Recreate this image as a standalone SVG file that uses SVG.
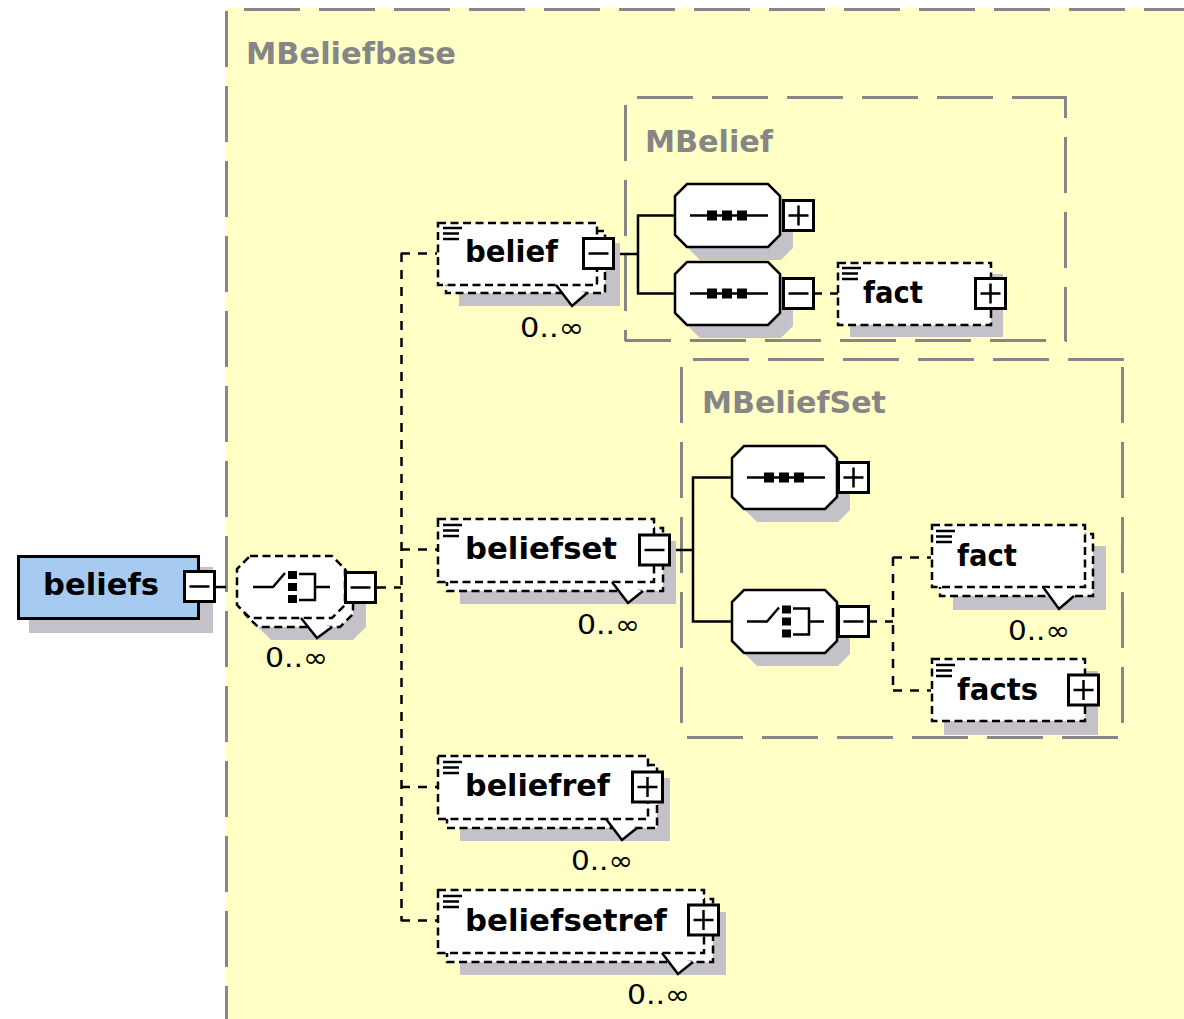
<svg xmlns="http://www.w3.org/2000/svg" width="1184" height="1019" viewBox="0 0 1184 1019">
<style>
.gb{fill:none;stroke:#868686;stroke-width:3;stroke-dasharray:56 19}
.gt{font-family:"DejaVu Sans",sans-serif;font-weight:bold;font-size:31px;fill:#868686}
.lbl{font-family:"DejaVu Sans",sans-serif;font-weight:bold;font-size:30px;fill:#000}
.occ{font-family:"DejaVu Sans",sans-serif;font-size:27px;fill:#000}
.sh{fill:#C4C2C8}
.db{fill:#fff;stroke:#000;stroke-width:2.5;stroke-dasharray:8 4.5}
.sb{fill:#fff;stroke:#000;stroke-width:2.5}
.v{fill:#fff;stroke:#000;stroke-width:2.5}
.c{fill:none;stroke:#000;stroke-width:2.5}
.cd{fill:none;stroke:#000;stroke-width:2.5;stroke-dasharray:9 8}
</style>
<defs>
<g id="btnMinus"><rect x="0" y="0" width="30" height="30" fill="#fff" stroke="#000" stroke-width="3"/><path d="M5,15H25" stroke="#000" stroke-width="2.5"/></g>
<g id="btnPlus"><rect x="0" y="0" width="30" height="30" fill="#fff" stroke="#000" stroke-width="3"/><path d="M5,15H25M15,5V25" stroke="#000" stroke-width="2.5"/></g>
<g id="doc"><path d="M0,0H19M0,5.5H16M0,11H16" stroke="#000" stroke-width="2.6" fill="none"/></g>
<g id="seqIcon"><path d="M15,0H93" stroke="#000" stroke-width="2.5"/><rect x="32" y="-5" width="10" height="10"/><rect x="47" y="-5" width="10" height="10"/><rect x="62" y="-5" width="10" height="10"/></g>
<g id="choiceIcon"><path d="M16,0H36L48,-14" fill="none" stroke="#000" stroke-width="2.5"/><rect x="51" y="-16" width="9" height="8"/><rect x="51" y="-4" width="9" height="8"/><rect x="51" y="8" width="9" height="8"/><path d="M62,-13H78V13H62M78,0H93" fill="none" stroke="#000" stroke-width="2.5"/></g>
</defs>
<rect x="0" y="0" width="1184" height="1019" fill="#fff"/>
<rect x="226" y="8" width="958" height="1011" fill="#FFFFC6"/>

<g id="MBeliefbase">
<path class="gb" d="M226,9.5H1184" stroke-dashoffset="57"/>
<path class="gb" d="M226.5,8V1019" stroke-dashoffset="72"/>
<text class="gt" x="246" y="64" textLength="210" lengthAdjust="spacingAndGlyphs">MBeliefbase</text>
</g>
<g id="MBelief">
<path class="gb" d="M625,97.5H1067" stroke-dashoffset="63"/>
<path class="gb" d="M1065.5,97V341" stroke-dashoffset="35"/>
<path class="gb" d="M625,340.5H1067" stroke-dashoffset="10"/>
<path class="gb" d="M625.5,97V341" stroke-dashoffset="67"/>
<text class="gt" x="645" y="152" textLength="128" lengthAdjust="spacingAndGlyphs">MBelief</text>
</g>
<g id="MBeliefSet">
<path class="gb" d="M681,359.5H1124" stroke-dashoffset="63"/>
<path class="gb" d="M681.5,359V738" stroke-dashoffset="67"/>
<path class="gb" d="M1122.5,359V738" stroke-dashoffset="67"/>
<path class="gb" d="M681,737.5H1124" stroke-dashoffset="69"/>
<text class="gt" x="702" y="413" textLength="184" lengthAdjust="spacingAndGlyphs">MBeliefSet</text>
</g>

<g id="connectors">
<path class="c" d="M215,587H226"/>
<path class="cd" d="M377,587.5H401"/>
<path class="cd" d="M401.5,253V921"/>
<path class="cd" d="M401,253.5H437M401,549.5H437M401,787H437M401,920.5H437"/>
<path class="c" d="M614,254H638M675,215.5H638V293.5H675"/>
<path class="cd" d="M813,293.5H838"/>
<path class="c" d="M670,550H693M732,477.5H693V621.5H732"/>
<path class="cd" d="M868,621.5H893"/>
<path class="cd" d="M893,557V691M893,557.5H931M893,690.5H931"/>
</g>

<g id="beliefs">
<rect class="sh" x="29" y="567" width="184" height="66"/>
<rect x="18.5" y="556.5" width="180" height="62" fill="#A6CAF0" stroke="#000" stroke-width="3"/>
<text class="lbl" x="43" y="595" textLength="116" lengthAdjust="spacingAndGlyphs">beliefs</text>
<use href="#btnMinus" x="184.5" y="571.5"/>
</g>

<g id="choice1">
<polygon class="sh" points="271,578 353,578 366,591 366,627 353,640 271,640 258,627 258,591"/>
<polygon class="db" points="258,565 340,565 353,578 353,614 340,627 258,627 245,614 245,578"/>
<polygon class="db" points="250,556 332,556 345,569 345,605 332,618 250,618 237,605 237,569"/>
<path class="v" d="M301,618L317,638L332,627"/>
<use href="#choiceIcon" x="237" y="587"/>
<use href="#btnMinus" x="345.5" y="572.5"/>
<text class="occ" x="265" y="667" textLength="63" lengthAdjust="spacingAndGlyphs">0..∞</text>
</g>

<g id="belief">
<rect class="sh" x="459" y="243" width="161" height="63"/>
<rect class="db" x="446" y="231" width="159" height="62"/>
<rect class="db" x="438" y="223" width="159" height="62"/>
<path class="v" d="M556,285L572,306L587,293"/>
<use href="#doc" x="443" y="228"/>
<text class="lbl" x="465" y="262" textLength="93" lengthAdjust="spacingAndGlyphs">belief</text>
<use href="#btnMinus" x="583.5" y="238.5"/>
<text class="occ" x="520" y="337" textLength="64" lengthAdjust="spacingAndGlyphs">0..∞</text>
</g>

<g id="sequence1">
<polygon class="sh" points="700,197 781,197 793,209 793,248 781,260 700,260 688,248 688,209"/>
<polygon class="sb" points="687,184 768,184 780,196 780,235 768,247 687,247 675,235 675,196"/>
<use href="#seqIcon" x="675" y="215.5"/>
<use href="#btnPlus" x="783.5" y="200.5"/>
</g>

<g id="sequence2">
<polygon class="sh" points="700,275 781,275 793,287 793,326 781,338 700,338 688,326 688,287"/>
<polygon class="sb" points="687,262 768,262 780,274 780,313 768,325 687,325 675,313 675,274"/>
<use href="#seqIcon" x="675" y="293.5"/>
<use href="#btnMinus" x="783.5" y="278.5"/>
</g>

<g id="fact1">
<rect class="sh" x="850" y="274" width="153" height="63"/>
<rect class="db" x="838" y="263" width="153" height="62"/>
<use href="#doc" x="842" y="268"/>
<text class="lbl" x="863" y="303" textLength="60" lengthAdjust="spacingAndGlyphs">fact</text>
<use href="#btnPlus" x="975.5" y="278.5"/>
</g>

<g id="beliefset">
<rect class="sh" x="460" y="541" width="216" height="63"/>
<rect class="db" x="447" y="528" width="216" height="63"/>
<rect class="db" x="438" y="519" width="216" height="63"/>
<path class="v" d="M612,582L628,603L643,591"/>
<use href="#doc" x="443" y="525"/>
<text class="lbl" x="465" y="559" textLength="152" lengthAdjust="spacingAndGlyphs">beliefset</text>
<use href="#btnMinus" x="639.5" y="535"/>
<text class="occ" x="577" y="634" textLength="63" lengthAdjust="spacingAndGlyphs">0..∞</text>
</g>

<g id="sequence3">
<polygon class="sh" points="757,459 838,459 850,471 850,510 838,522 757,522 745,510 745,471"/>
<polygon class="sb" points="744,446 825,446 837,458 837,497 825,509 744,509 732,497 732,458"/>
<use href="#seqIcon" x="732" y="477.5"/>
<use href="#btnPlus" x="838.5" y="462.5"/>
</g>

<g id="choice2">
<polygon class="sh" points="757,603 838,603 850,615 850,654 838,666 757,666 745,654 745,615"/>
<polygon class="sb" points="744,590 825,590 837,602 837,641 825,653 744,653 732,641 732,602"/>
<use href="#choiceIcon" x="731" y="621.5"/>
<use href="#btnMinus" x="838.5" y="606.5"/>
</g>

<g id="fact2">
<rect class="sh" x="953" y="546" width="153" height="64"/>
<rect class="db" x="940" y="534" width="153" height="62"/>
<rect class="db" x="932" y="525" width="153" height="62"/>
<path class="v" d="M1043,587L1059,609L1074,596"/>
<use href="#doc" x="936" y="531"/>
<text class="lbl" x="957" y="566" textLength="60" lengthAdjust="spacingAndGlyphs">fact</text>
<text class="occ" x="1008" y="640" textLength="62" lengthAdjust="spacingAndGlyphs">0..∞</text>
</g>

<g id="facts">
<rect class="sh" x="944" y="671" width="154" height="64"/>
<rect class="db" x="932" y="659" width="153" height="62"/>
<use href="#doc" x="936" y="665"/>
<text class="lbl" x="957" y="700" textLength="81" lengthAdjust="spacingAndGlyphs">facts</text>
<use href="#btnPlus" x="1068.5" y="675"/>
</g>

<g id="beliefref">
<rect class="sh" x="460" y="778" width="210" height="63"/>
<rect class="db" x="447" y="765" width="210" height="63"/>
<rect class="db" x="438" y="756" width="210" height="63"/>
<path class="v" d="M606,819L622,840L637,828"/>
<use href="#doc" x="443" y="762"/>
<text class="lbl" x="465" y="796" textLength="145" lengthAdjust="spacingAndGlyphs">beliefref</text>
<use href="#btnPlus" x="632.5" y="772"/>
<text class="occ" x="571" y="870" textLength="62" lengthAdjust="spacingAndGlyphs">0..∞</text>
</g>

<g id="beliefsetref">
<rect class="sh" x="460" y="912" width="266" height="63"/>
<rect class="db" x="447" y="899" width="266" height="63"/>
<rect class="db" x="438" y="890" width="266" height="63"/>
<path class="v" d="M662,953L678,974L693,962"/>
<use href="#doc" x="443" y="896"/>
<text class="lbl" x="465" y="931" textLength="202" lengthAdjust="spacingAndGlyphs">beliefsetref</text>
<use href="#btnPlus" x="688.5" y="905"/>
<text class="occ" x="627" y="1004" textLength="63" lengthAdjust="spacingAndGlyphs">0..∞</text>
</g>
</svg>
